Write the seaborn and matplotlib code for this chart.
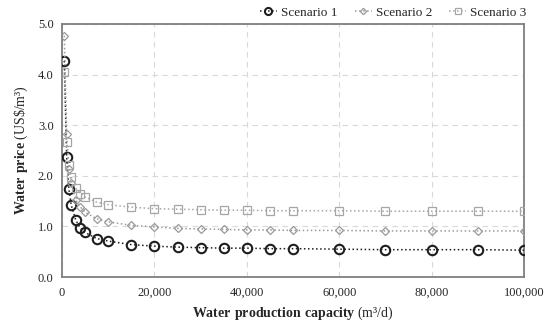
import numpy as np
import pandas as pd
import matplotlib
matplotlib.use("Agg")
import matplotlib.pyplot as plt
import seaborn as sns

# data
capacity = [500, 1000, 1500, 2000, 3000, 4000, 5000, 7500, 10000, 15000, 20000,
            25000, 30000, 35000, 40000, 45000, 50000, 60000, 70000, 80000, 90000, 100000]
scenario1 = [4.27, 2.37, 1.73, 1.42, 1.12, 0.96, 0.88, 0.76, 0.71, 0.64, 0.61,
             0.59, 0.58, 0.57, 0.57, 0.56, 0.56, 0.55, 0.54, 0.54, 0.54, 0.53]
scenario2 = [4.77, 2.83, 2.13, 1.86, 1.52, 1.38, 1.28, 1.15, 1.09, 1.02, 0.99,
             0.96, 0.95, 0.94, 0.93, 0.93, 0.92, 0.92, 0.91, 0.91, 0.91, 0.91]
scenario3 = [4.05, 2.67, 2.21, 1.98, 1.75, 1.65, 1.58, 1.48, 1.43, 1.38, 1.35,
             1.34, 1.33, 1.32, 1.32, 1.31, 1.31, 1.31, 1.30, 1.30, 1.30, 1.30]
names = ["Scenario 1", "Scenario 2", "Scenario 3"]
x_ticks = [0, 20000, 40000, 60000, 80000, 100000]
y_ticks = [0.0, 1.0, 2.0, 3.0, 4.0, 5.0]

df = pd.DataFrame({
    "capacity": capacity * 3,
    "price": scenario1 + scenario2 + scenario3,
    "scenario": [names[0]] * len(capacity) + [names[1]] * len(capacity) + [names[2]] * len(capacity),
})

sns.set_style("white")
plt.rcParams["font.family"] = ["Liberation Serif", "DejaVu Serif"]
plt.rcParams["mathtext.fontset"] = "custom"
plt.rcParams["mathtext.rm"] = "Liberation Serif"
plt.rcParams["mathtext.bf"] = "Liberation Serif:bold"

fig = plt.figure(figsize=(5.5, 3.24), dpi=100)
ax = fig.add_axes([62 / 550, 1 - 277 / 324, 462 / 550, 253 / 324])

styles = {
    names[0]: dict(marker="o", color="#1e1e1e", ms=6.8, mew=1.5),
    names[1]: dict(marker="D", color="#9a9a9a", ms=4.3, mew=0.9),
    names[2]: dict(marker="s", color="#a6a6a6", ms=6.0, mew=0.9),
}
for name in names:
    st = styles[name]
    sns.lineplot(data=df[df["scenario"] == name], x="capacity", y="price", ax=ax,
                 color=st["color"], linestyle=":", linewidth=1.1,
                 marker=st["marker"], markersize=st["ms"], markeredgewidth=st["mew"],
                 markerfacecolor="none", markeredgecolor=st["color"], label=name,
                 zorder=3)

ax.set_xlim(0, 100000)
ax.set_ylim(0, 5)
ax.set_xticks(x_ticks)
ax.set_xticklabels([f"{v:,}" for v in x_ticks])
ax.set_yticks(y_ticks)
ax.set_yticklabels([f"{v:.1f}" for v in y_ticks])
ax.tick_params(axis="both", labelsize=9, direction="out", length=3, width=1,
               color="#7f7f7f", pad=3)
ax.tick_params(axis="x", length=4)
ax.grid(True, linestyle=(0, (5, 4)), color="#d9d9d9", linewidth=0.8)
for sp in ax.spines.values():
    sp.set_color("#7f7f7f")
    sp.set_linewidth(1.3)

ax.set_xlabel(r"$\mathbf{Water\ production\ capacity}$ (m³/d)", fontsize=10, labelpad=4)
ax.set_ylabel(r"$\mathbf{Water\ price}$ (US\$/m³)", fontsize=10, labelpad=6)

ax.legend(loc="lower right", bbox_to_anchor=(1.02, 0.995), ncol=3, frameon=False,
          fontsize=9.5, handlelength=1.3, handletextpad=0.3, columnspacing=1.3,
          borderaxespad=0.1, markerscale=0.75)

fig.savefig("out.png", dpi=100)
